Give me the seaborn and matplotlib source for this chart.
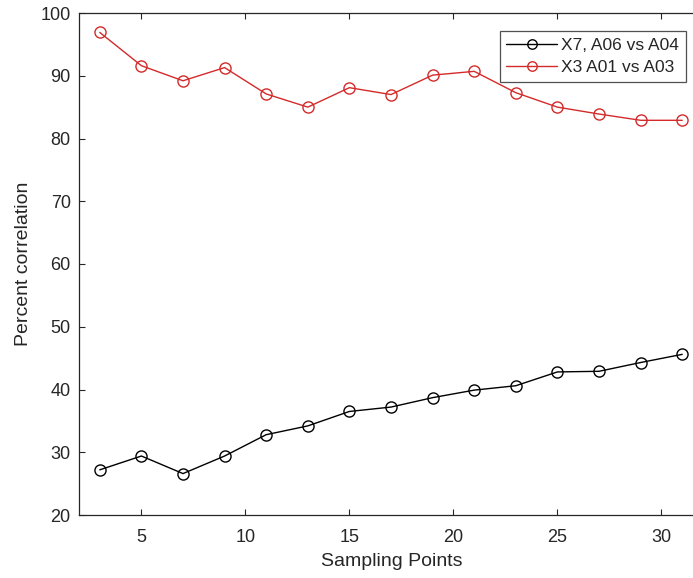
import numpy as np
import pandas as pd
import seaborn as sns
import matplotlib.pyplot as plt

# sampling points and correlation values
sampling_points = [3, 5, 7, 9, 11, 13, 15, 17, 19, 21, 23, 25, 27, 29, 31]
x7_a06_vs_a04 = [27.2, 29.4, 26.6, 29.4, 32.8, 34.2, 36.5, 37.2, 38.7, 39.9, 40.6, 42.8, 42.9, 44.3, 45.6]
x3_a01_vs_a03 = [96.9, 91.6, 89.2, 91.3, 87.1, 85.0, 88.1, 87.0, 90.1, 90.7, 87.3, 85.0, 83.9, 82.9, 82.9]
series_names = ["X7, A06 vs A04", "X3 A01 vs A03"]

df = pd.DataFrame({
    "x": sampling_points * 2,
    "y": x7_a06_vs_a04 + x3_a01_vs_a03,
    "series": [series_names[0]] * len(sampling_points) + [series_names[1]] * len(sampling_points),
})

sns.set_style("white")
plt.rcParams['font.family'] = ['Liberation Sans', 'DejaVu Sans']

W, H = 693, 578
fig = plt.figure(figsize=(W / 100, H / 100), dpi=100)
# axes run well past the right edge, like the cropped original
ax_l, ax_t, ax_b, ax_w = 79, 13, 515, 660
ax = fig.add_axes([ax_l / W, (H - ax_b) / H, ax_w / W, (ax_b - ax_t) / H])

palette = {series_names[0]: "black", series_names[1]: "#d42a2a"}
sns.lineplot(
    data=df, x="x", y="y", hue="series", palette=palette, ax=ax,
    marker="o", markersize=8, markerfacecolor="none", markeredgewidth=1.0,
    linewidth=1.0, legend=True,
)
for line in ax.lines:
    line.set_markerfacecolor("none")
    line.set_markeredgecolor(line.get_color())

# keep ~20.8 px per sampling point, with x=2 at the left spine
ax.set_xlim(2, 2 + 30 * ax_w / 624)
ax.set_ylim(20, 100)
ax.set_xticks([5, 10, 15, 20, 25, 30])
ax.set_yticks(np.arange(20, 101, 10))

txt = "#262626"
ax.set_xlabel("Sampling Points", fontsize=14, color=txt, labelpad=3)
ax.xaxis.set_label_coords((345 + 47 - ax_l) / ax_w, -0.075)
ax.set_ylabel("Percent correlation", fontsize=14, color=txt, labelpad=6)
ax.tick_params(direction="in", length=4, width=0.8, colors=txt, labelsize=13,
               top=True, right=False, bottom=True, left=True)
ax.tick_params(axis="x", pad=10)
ax.tick_params(axis="y", pad=6)
for s in ax.spines.values():
    s.set_color(txt)
    s.set_linewidth(0.9)
ax.spines["right"].set_visible(False)

leg = ax.legend(loc="upper right",
                bbox_to_anchor=((686 - ax_l) / ax_w, 1 - (31 - ax_t) / (ax_b - ax_t)),
                borderaxespad=0, fontsize=12.5, frameon=True, fancybox=False,
                edgecolor=txt, handlelength=2.9, borderpad=0.4, labelspacing=0.4,
                handletextpad=0.25, markerscale=0.85)
leg.get_frame().set_linewidth(0.9)
for t in leg.get_texts():
    t.set_color(txt)

fig.savefig("out.png", dpi=100, facecolor="white")
